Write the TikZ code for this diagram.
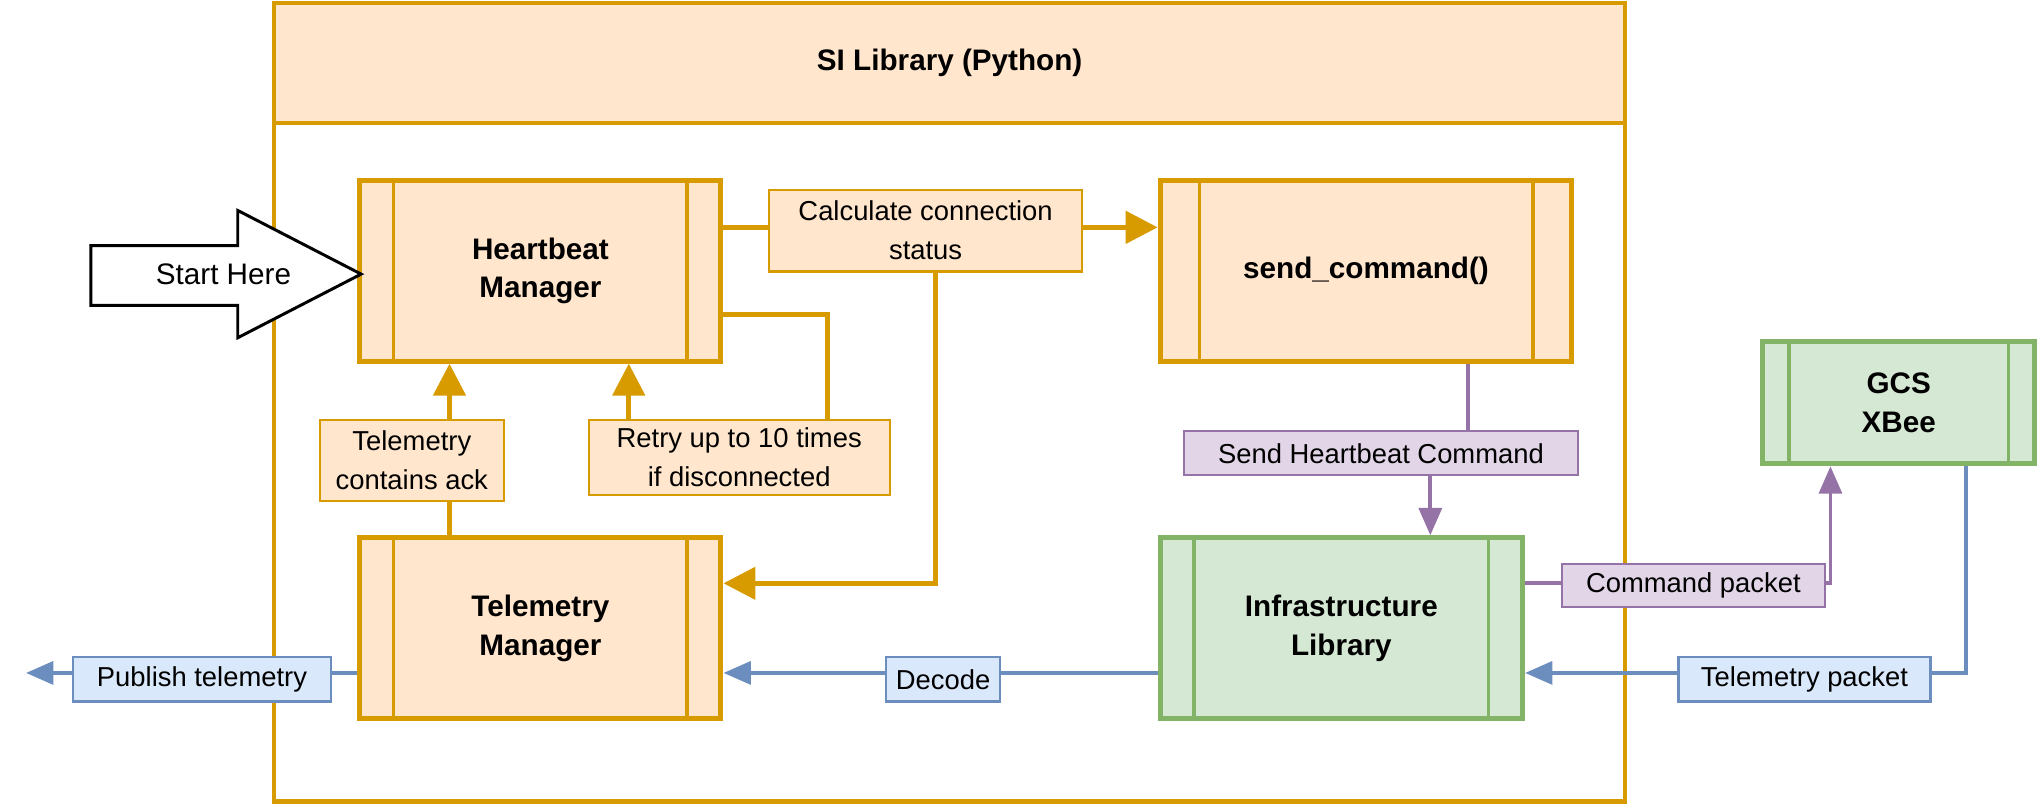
\documentclass[tikz,border=0pt]{standalone}
\usepackage{fontspec}
\setmainfont{Liberation Sans}
\usetikzlibrary{arrows.meta}
\definecolor{oF}{HTML}{FFE6CC}\definecolor{oS}{HTML}{D79B00}
\definecolor{gF}{HTML}{D5E8D4}\definecolor{gS}{HTML}{82B366}
\definecolor{pF}{HTML}{E1D5E7}\definecolor{pS}{HTML}{9673A6}
\definecolor{bF}{HTML}{DAE8FC}\definecolor{bS}{HTML}{6C8EBF}
\tikzset{
 proc/.style={draw=oS,fill=oF,line width=2.2pt,font=\fontsize{13}{17}\selectfont\bfseries,align=center,minimum height=2.78cm},
 procg/.style={proc,draw=gS,fill=gF},
 lbl/.style={draw=#1S,fill=#1F,line width=0.9pt,font=\fontsize{12}{17}\selectfont,align=center,inner sep=1pt},
 oarr/.style={draw=oS,line width=2.2pt,-{Triangle[length=14pt,width=14pt]}},
 oln/.style={draw=oS,line width=2.2pt},
 parr/.style={draw=pS,line width=1.7pt,-{Triangle[length=12pt,width=10pt]}},
 barr/.style={draw=bS,line width=1.7pt,-{Triangle[length=12pt,width=10pt]}},
}
\begin{document}
\begin{tikzpicture}[x=0.02cm,y=-0.02cm]
\useasboundingbox (0,0) rectangle (1568,621);
% container
\draw[oS,line width=1.8pt] (211,2) rectangle (1251,617);
\node[draw=oS,fill=oF,line width=1.8pt,minimum width=20.8cm,minimum height=1.86cm,font=\fontsize{13}{17}\selectfont\bfseries] (hdr) at (731,48.5) {SI Library (Python)};
% boxes
\node[proc,minimum width=5.56cm] (hb) at (416,208.5) {Heartbeat\\Manager};
\node[proc,minimum width=6.34cm] (sc) at (1051.5,208.5) {send\_command()};
\node[proc,minimum width=5.56cm] (tm) at (416,483.5) {Telemetry\\Manager};
\node[procg,minimum width=5.58cm] (il) at (1032.5,483.5) {Infrastructure\\Library};
\node[procg,minimum width=4.18cm,minimum height=1.88cm] (gcs) at (1461.5,310) {GCS\\XBee};
\foreach \n/\d in {hb/28,sc/32,tm/28,il/28,gcs/22}{
 \draw[line width=1.5pt,draw=oS] ([xshift=\d*0.02cm]\n.north west) -- ([xshift=\d*0.02cm]\n.south west);
 \draw[line width=1.5pt,draw=oS] ([xshift=-\d*0.02cm]\n.north east) -- ([xshift=-\d*0.02cm]\n.south east);
}
\foreach \n/\d in {il/28,gcs/22}{
 \draw[line width=1.5pt,draw=gS] ([xshift=\d*0.02cm]\n.north west) -- ([xshift=\d*0.02cm]\n.south west);
 \draw[line width=1.5pt,draw=gS] ([xshift=-\d*0.02cm]\n.north east) -- ([xshift=-\d*0.02cm]\n.south east);
}
% start arrow
\draw[line width=1.3pt,fill=white] (70,189) -- (183,189) -- (183,162) -- (278,211) -- (183,260) -- (183,235) -- (70,235) -- cycle;
\node[font=\fontsize{13}{17}\selectfont] (start) at (172,211) {Start Here};
% labels
\node[lbl=o,minimum width=4.82cm,minimum height=1.26cm] (calc) at (712.5,177.5) {Calculate connection\\status};
\node[lbl=o,minimum width=4.64cm,minimum height=1.16cm] (retry) at (569,352) {Retry up to 10 times\\if disconnected};
\node[lbl=o,minimum width=2.84cm,minimum height=1.26cm] (ack) at (317,354.5) {Telemetry\\contains ack};
\node[lbl=p,minimum width=6.08cm,minimum height=0.68cm] (shc) at (1063,349) {Send Heartbeat Command};
\node[lbl=p,minimum width=4.06cm,minimum height=0.66cm] (cp) at (1303.5,450.5) {Command packet};
\node[lbl=b,minimum width=3.88cm,minimum height=0.68cm] (tp) at (1389,523) {Telemetry packet};
\node[lbl=b,minimum width=1.76cm,minimum height=0.68cm] (dec) at (726,523) {Decode};
\node[lbl=b,minimum width=3.98cm,minimum height=0.68cm] (pub) at (155.5,523) {Publish telemetry};
\coordinate (out) at (20,518);
% connectors
\begin{scope}[on background layer/.style={}]
\draw[oln] (hb.east |- 0,175) -- (calc.west |- 0,175);
\draw[oarr] (calc.east |- 0,175) -- (sc.west |- 0,175);
\draw[oarr] (calc.south -| 720,0) -- (720,449) -- (tm.east |- 0,449);
\draw[oln] (hb.east |- 0,242) -- (637,242) -- (retry.north -| 637,0);
\draw[oarr] (retry.north -| 484,0) -- (hb.south -| 484,0);
\draw[oarr] (ack.north -| 346,0) -- (hb.south -| 346,0);
\draw[oln] (tm.north -| 346,0) -- (ack.south -| 346,0);
\draw[draw=pS,line width=1.7pt] (sc.south -| 1130,0) -- (shc.north -| 1130,0);
\draw[parr] (shc.south -| 1101,0) -- (il.north -| 1101,0);
\draw[draw=pS,line width=1.7pt] (il.east |- 0,449) -- (cp.west |- 0,449);
\draw[parr] (cp.east |- 0,449) -- (1409,449) -- (gcs.south -| 1409,0);
\draw[draw=bS,line width=1.7pt] (gcs.south -| 1513,0) -- (1513,518) -- (tp.east |- 0,518);
\draw[barr] (tp.west |- 0,518) -- (il.east |- 0,518);
\draw[draw=bS,line width=1.7pt] (il.west |- 0,518) -- (dec.east |- 0,518);
\draw[barr] (dec.west |- 0,518) -- (tm.east |- 0,518);
\draw[draw=bS,line width=1.7pt] (tm.west |- 0,518) -- (pub.east |- 0,518);
\draw[barr] (pub.west |- 0,518) -- (out);
\end{scope}
\end{tikzpicture}
\end{document}
